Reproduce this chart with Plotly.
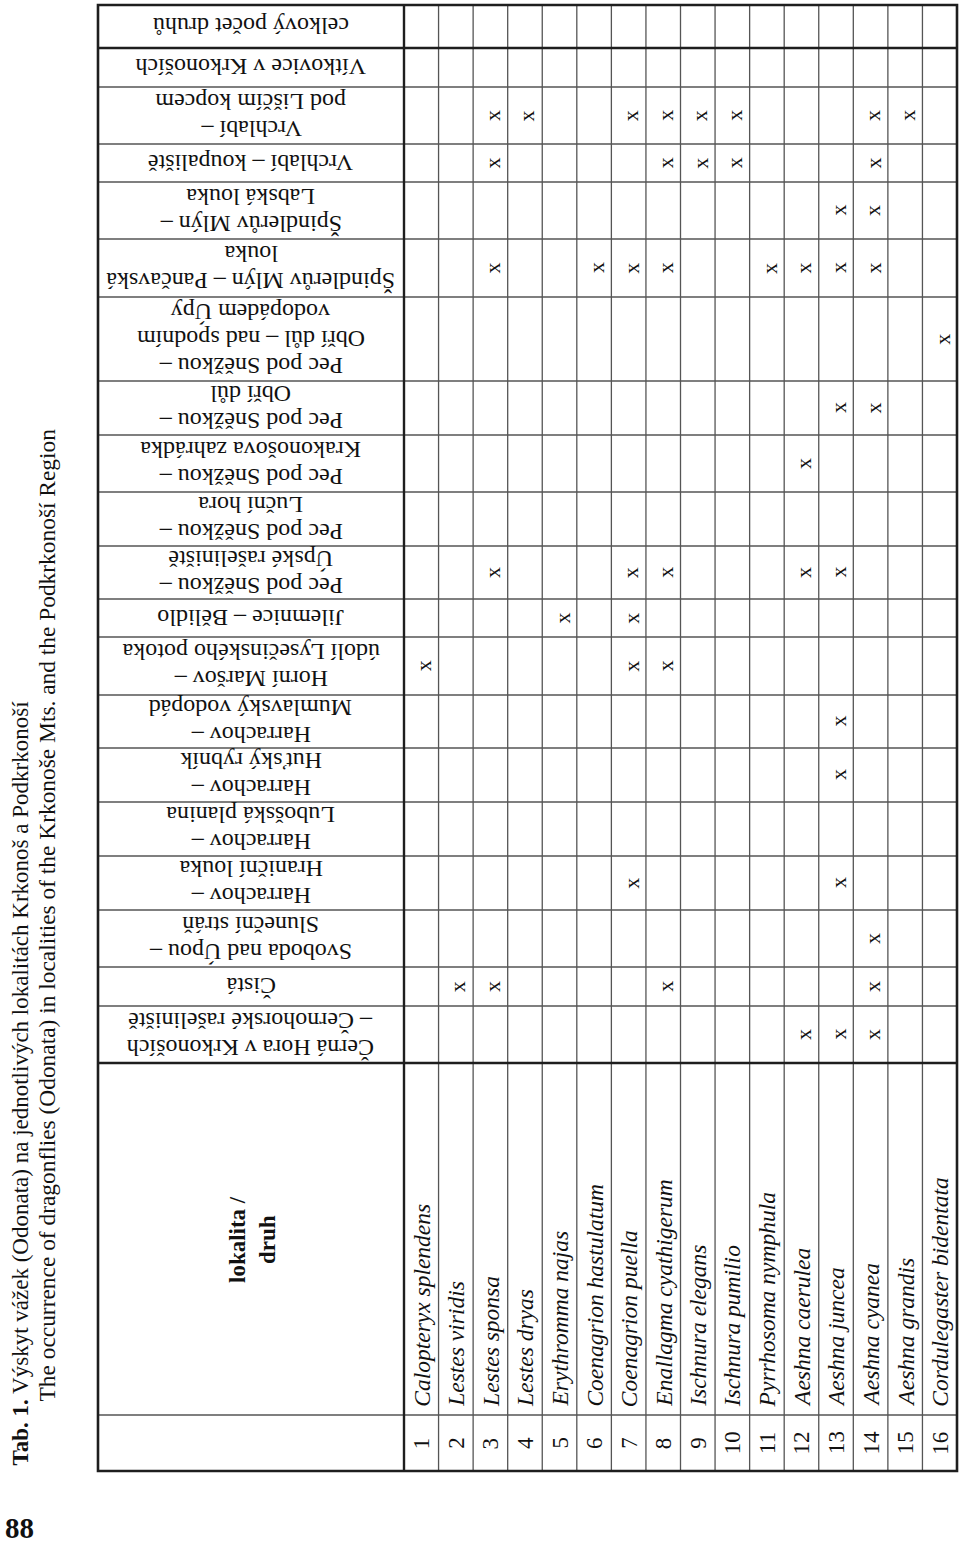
import plotly.graph_objects as go

# ---- data -------------------------------------------------------------
species = [
    "Calopteryx splendens", "Lestes viridis", "Lestes sponsa", "Lestes dryas",
    "Erythromma najas", "Coenagrion hastulatum", "Coenagrion puella",
    "Enallagma cyathigerum", "Ischnura elegans", "Ischnura pumilio",
    "Pyrrhosoma nymphula", "Aeshna caerulea", "Aeshna juncea", "Aeshna cyanea",
    "Aeshna grandis", "Cordulegaster bidentata",
]
species_no = ["1", "2", "3", "4", "5", "6", "7", "8", "9", "10",
              "11", "12", "13", "14", "15", "16"]

# header columns of the table (printed line breaks kept)
localities = [
    ["Černá Hora v Krkonoších", "– Černohorské rašeliniště"],
    ["Čistá"],
    ["Svoboda nad Úpou –", "Sluneční stráň"],
    ["Harrachov –", "Hraniční louka"],
    ["Harrachov –", "Lubošská planina"],
    ["Harrachov –", "Huťský rybník"],
    ["Harrachov –", "Mumlavský vodopád"],
    ["Horní Maršov –", "údolí Lysečinského potoka"],
    ["Jilemnice – Bělidlo"],
    ["Pec pod Sněžkou –", "Úpské rašeliniště"],
    ["Pec pod Sněžkou –", "Luční hora"],
    ["Pec pod Sněžkou –", "Krakonošova zahrádka"],
    ["Pec pod Sněžkou –", "Obří důl"],
    ["Pec pod Sněžkou –", "Obří důl – nad spodním", "vodopádem Úpy"],
    ["Špindlerův Mlýn – Pančavská", "louka"],
    ["Špindlerův Mlýn –", "Labská louka"],
    ["Vrchlabí – koupaliště"],
    ["Vrchlabí –", "pod Liščím kopcem"],
    ["Vítkovice v Krkonoších"],
    ["celkový počet druhů"],
]

# locality numbers (1-based, order above) where each species was found
records = [
    [8],
    [2],
    [2, 10, 15, 17, 18],
    [18],
    [9],
    [15],
    [4, 8, 9, 10, 15, 18],
    [2, 8, 10, 15, 17, 18],
    [17, 18],
    [17, 18],
    [15],
    [1, 10, 12, 15],
    [1, 4, 6, 7, 10, 13, 15, 16],
    [1, 2, 3, 13, 15, 16, 17, 18],
    [18],
    [14],
]

corner_label = ["lokalita /", "druh"]
title_cz = "Výskyt vážek (Odonata) na jednotlivých lokalitách Krkonoš a Podkrkonoší"
title_en = ("The occurrence of dragonflies (Odonata) in localities of the "
            "Krkonoše Mts. and the Podkrkonoší Region")
page_no = "88"

# ---- page geometry (pixels of the rotated page) -------------------------
W, H = 960, 1546
FONT = "Liberation Serif"
left, split, right = 98, 404, 957
top, bottom = 5, 1471
num_split = 1415
# header band edges, locality 1 first (bottom of the page) upwards
band_edges = [1063, 1006, 967, 910, 856, 802, 748, 695, 637, 599, 546,
              492, 435, 381, 297, 239, 182, 144, 87, 48, 5]
row_w = (right - split) / len(species)
row_mid = [split + row_w * (i + 0.5) for i in range(len(species))]
band_mid = [(band_edges[i] + band_edges[i + 1]) / 2 for i in range(len(localities))]
head_mid = (left + split) / 2
line_pitch = 27

fig = go.Figure()
shapes = []
annotations = []


def hline(y, x0, x1, width, color):
    shapes.append(dict(type="line", x0=x0, x1=x1, y0=y, y1=y, xref="x", yref="y",
                       line=dict(color=color, width=width)))


def vline(x, y0, y1, width, color):
    shapes.append(dict(type="line", x0=x, x1=x, y0=y0, y1=y1, xref="x", yref="y",
                       line=dict(color=color, width=width)))


THIN, THICK = "#555555", "#1e1e1e"

# thin grid
for y in band_edges[1:-1]:
    if y != 48:
        hline(y, left, right, 1.3, THIN)
hline(num_split, left, right, 1.3, THIN)
for i in range(1, len(species)):
    vline(split + row_w * i, top, bottom, 1.3, THIN)

# heavy rules
hline(48, left, right, 2.4, THICK)
hline(band_edges[0], left, right, 2.4, THICK)
vline(split, top, bottom, 2.4, THICK)
shapes.append(dict(type="rect", x0=left, x1=right, y0=top, y1=bottom, xref="x", yref="y",
                   line=dict(color=THICK, width=2.6)))


def text(x, y, s, size, angle, xanchor="center", yanchor="middle", **font):
    annotations.append(dict(x=x, y=y, xref="x", yref="y", text=s, showarrow=False,
                            textangle=angle, xanchor=xanchor, yanchor=yanchor,
                            font=dict(family=FONT, size=size, color="#111", **font)))


# locality headers, printed upside down
for j, lines in enumerate(localities):
    n = len(lines)
    for k, line in enumerate(lines):
        y = band_mid[j] + (n - 1) / 2 * line_pitch - k * line_pitch
        text(head_mid, y, line, 24, 180)

# corner cell
text(237, 1240, "<b>" + corner_label[0] + "</b>", 23, -90)
text(267, 1240, "<b>" + corner_label[1] + "</b>", 23, -90)

# species rows
for i, name in enumerate(species):
    text(row_mid[i], 1443, species_no[i], 23, -90)
    text(row_mid[i], 1409, "<i>" + name + "</i>", 23.5, -90, yanchor="bottom")
    for loc in records[i]:
        text(row_mid[i] + 2, band_mid[loc - 1], "x", 22, -90)

# caption and page number
text(20, 1468, "<b>Tab. 1.</b> " + title_cz, 23, -90, yanchor="bottom")
text(46, 1404, title_en, 23.4, -90, yanchor="bottom")
text(19, 1528, "<b>" + page_no + "</b>", 29, 0)

fig.update_layout(
    width=W, height=H,
    margin=dict(l=0, r=0, t=0, b=0),
    paper_bgcolor="white", plot_bgcolor="white",
    xaxis=dict(range=[0, W], visible=False, fixedrange=True),
    yaxis=dict(range=[H, 0], visible=False, fixedrange=True),
    shapes=shapes,
    annotations=annotations,
    showlegend=False,
)

# the page is exactly the figure size, so drop the browser's default body margin
fig.write_html("out.html", config={"displayModeBar": False},
               post_script="document.body.style.margin='0';")
